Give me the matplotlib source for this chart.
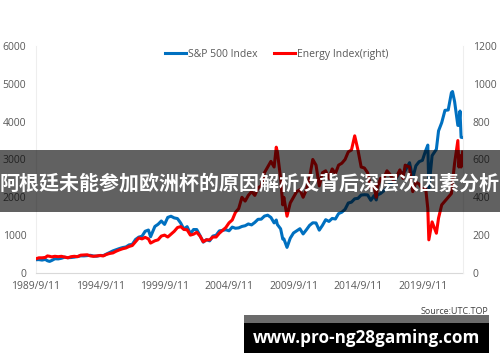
import matplotlib.pyplot as plt
import matplotlib.dates as mdates
from matplotlib.patches import Rectangle
import pandas as pd

# approximate readings, S&P 500 (left) and Energy Index (right)
dates = ["1989-09-11", "1989-12", "1990-03", "1990-06", "1990-08", "1990-10", "1990-12",
         "1991-03", "1991-06", "1991-09", "1991-12", "1992-03", "1992-06", "1992-09", "1992-12",
         "1993-03", "1993-06", "1993-09", "1993-12", "1994-03", "1994-06", "1994-09", "1994-12",
         "1995-03", "1995-06", "1995-09", "1995-12", "1996-03", "1996-06", "1996-09", "1996-12",
         "1997-03", "1997-06", "1997-09", "1997-12", "1998-03", "1998-06", "1998-08", "1998-12",
         "1999-03", "1999-06", "1999-09", "1999-12", "2000-03", "2000-06", "2000-09", "2000-12",
         "2001-03", "2001-06", "2001-09", "2001-12", "2002-03", "2002-06", "2002-09", "2002-12",
         "2003-03", "2003-06", "2003-09", "2003-12", "2004-03", "2004-06", "2004-09", "2004-12",
         "2005-03", "2005-06", "2005-09", "2005-12", "2006-03", "2006-06", "2006-09", "2006-12",
         "2007-03", "2007-06", "2007-09", "2007-12", "2008-03", "2008-05", "2008-06", "2008-09",
         "2008-11", "2008-12", "2009-03", "2009-06", "2009-09", "2009-12", "2010-03", "2010-06",
         "2010-09", "2010-12", "2011-03", "2011-06", "2011-09", "2011-12", "2012-03", "2012-06",
         "2012-09", "2012-12", "2013-03", "2013-06", "2013-09", "2013-12", "2014-03", "2014-06",
         "2014-09", "2014-12", "2015-03", "2015-06", "2015-09", "2015-12", "2016-02", "2016-03",
         "2016-06", "2016-09", "2016-12", "2017-03", "2017-06", "2017-09", "2017-12", "2018-03",
         "2018-05", "2018-09", "2018-12", "2019-03", "2019-06", "2019-09", "2019-12", "2020-02",
         "2020-03", "2020-06", "2020-10", "2020-12", "2021-03", "2021-06", "2021-09", "2021-12",
         "2022-01", "2022-03", "2022-06", "2022-07", "2022-08", "2022-09", "2022-10-14"]

spx = [349, 353, 340, 358, 322, 305, 330,
       375, 371, 388, 417, 404, 408, 418, 436,
       452, 451, 459, 466, 446, 444, 463, 459,
       501, 545, 584, 616, 645, 671, 687, 741,
       757, 885, 947, 970, 1102, 1134, 957, 1229,
       1286, 1373, 1283, 1469, 1499, 1455, 1437, 1320,
       1160, 1224, 1041, 1148, 1147, 990, 815, 880,
       848, 975, 996, 1112, 1126, 1141, 1115, 1212,
       1181, 1191, 1229, 1248, 1295, 1270, 1336, 1418,
       1421, 1503, 1527, 1468, 1323, 1400, 1280, 1166,
       896, 903, 676, 919, 1057, 1115, 1169, 1031,
       1141, 1258, 1326, 1321, 1131, 1258, 1408, 1362,
       1441, 1426, 1569, 1606, 1682, 1848, 1872, 1960,
       1972, 2059, 2068, 2063, 1920, 2044, 1930, 2060,
       2099, 2168, 2239, 2363, 2423, 2519, 2674, 2641,
       2705, 2914, 2507, 2834, 2942, 2977, 3231, 3380,
       2237, 3100, 3270, 3756, 3973, 4298, 4308, 4766,
       4796, 4530, 3900, 3900, 4280, 3586, 3580]

energy = [75, 80, 80, 82, 90, 88, 85,
          88, 86, 88, 84, 80, 86, 88, 86,
          94, 95, 96, 90, 88, 90, 92, 90,
          98, 103, 106, 115, 122, 128, 132, 140,
          145, 165, 185, 180, 188, 180, 158, 170,
          175, 195, 200, 190, 205, 220, 240, 245,
          230, 228, 200, 205, 215, 195, 165, 175,
          175, 190, 190, 210, 225, 240, 265, 280,
          320, 340, 400, 380, 410, 430, 410, 450,
          460, 530, 560, 590, 560, 665, 640, 500,
          360, 400, 300, 370, 400, 430, 440, 400,
          440, 505, 600, 570, 460, 530, 540, 500,
          550, 525, 570, 580, 600, 640, 650, 725,
          650, 560, 555, 530, 450, 460, 400, 450,
          500, 500, 540, 520, 490, 510, 545, 500,
          570, 560, 430, 480, 470, 440, 450, 340,
          175, 270, 210, 290, 360, 380, 400, 420,
          480, 580, 700, 560, 620, 560, 640]

x_ticks = ["1989-09-11", "1994-09-11", "1999-09-11", "2004-09-11",
           "2009-09-11", "2014-09-11", "2019-09-11"]
x_labels = ["1989/9/11", "1994/9/11", "1999/9/11", "2004/9/11",
            "2009/9/11", "2014/9/11", "2019/9/11"]

title = "阿根廷未能参加欧洲杯的原因解析及背后深层次因素分析"
site = "www.pro-ng28gaming.com"

d = pd.to_datetime(dates, format='mixed')
tick_color = '#595959'
plt.rcParams['font.family'] = ['Open Sans', 'DejaVu Sans']

fig = plt.figure(figsize=(5, 3.62), dpi=100)
ax = fig.add_axes([0.072, 0.246, 0.854, 0.627])
ax2 = ax.twinx()

l1, = ax.plot(d, spx, color='#0070C0', lw=2.2, label='S&P 500 Index', zorder=3)
l2, = ax2.plot(d, energy, color='#FF0000', lw=2.2, label='Energy Index(right)', zorder=3)

ax.set_xlim(pd.Timestamp("1989-09-11"), pd.Timestamp("2022-10-25"))
ax.set_ylim(0, 6000)
ax2.set_ylim(0, 1200)
ax.set_yticks(range(0, 6001, 1000))
ax2.set_yticks(range(0, 1201, 200))
ax.set_xticks(pd.to_datetime(x_ticks))
ax.set_xticklabels(x_labels)

for a in (ax, ax2):
    for s in a.spines.values():
        s.set_visible(False)
    a.tick_params(colors=tick_color, labelsize=7.5, length=0)
ax.spines['bottom'].set_visible(True)
ax.spines['bottom'].set_color('#d9d9d9')
ax.spines['left'].set_visible(True)
ax.spines['left'].set_color('#eeeeee')
ax2.spines['right'].set_visible(True)
ax2.spines['right'].set_color('#eeeeee')
ax.tick_params(axis='x', pad=6)
ax.tick_params(axis='y', pad=7)
ax2.tick_params(axis='y', pad=7)

fig.legend([l1, l2], ['S&P 500 Index', 'Energy Index(right)'], loc='center',
           bbox_to_anchor=(0.553, 0.85), ncol=2, frameon=False, fontsize=7.5,
           handlelength=2.0, handletextpad=0.2, columnspacing=1.6,
           labelcolor=tick_color)

fig.text(0.976, 1 - 312 / 362, "Source:UTC.TOP", ha='right', va='center',
         fontsize=6.5, color='#404040')

# dark banner across the middle
fig.patches.append(Rectangle((0, 1 - 212 / 362), 1, 62 / 362, transform=fig.transFigure,
                             facecolor='black', alpha=0.62, zorder=10))
fig.text(0.5, 1 - 183 / 362, title, ha='center', va='center', fontsize=14.4,
         color='white', fontweight='bold', zorder=11,
         family=['Noto Sans CJK SC', 'DejaVu Sans'])

# site box at the bottom
fig.patches.append(Rectangle((244 / 500, 1 - 323 / 362), 245 / 500, 8 / 362,
                             transform=fig.transFigure, facecolor='#6b6b6b', zorder=10))
fig.patches.append(Rectangle((244 / 500, 1 - 353 / 362), 245 / 500, 30 / 362,
                             transform=fig.transFigure, facecolor='black', zorder=10))
fig.text(366 / 500, 1 - 338 / 362, site, ha='center', va='center', fontsize=12.3,
         color='white', fontweight='bold', zorder=11)

fig.savefig('out.png', dpi=100)
